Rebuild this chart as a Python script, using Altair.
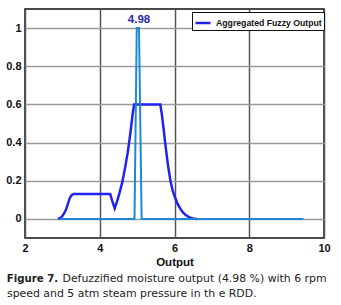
import altair as alt
import pandas as pd

# ---- data ----
agg_x = [2.88, 2.95, 3.0, 3.05, 3.1, 3.15, 3.2, 3.25, 3.3, 4.28, 4.34, 4.40,
         4.46, 4.52, 4.60, 4.68, 4.75, 4.82, 4.88, 4.92, 5.62, 5.66, 5.71,
         5.75, 5.82, 5.89, 5.95, 6.0, 6.08, 6.15, 6.22, 6.3, 6.4, 6.5, 6.6]
agg_y = [0.0, 0.005, 0.015, 0.03, 0.05, 0.08, 0.11, 0.125, 0.13, 0.13, 0.09, 0.055,
         0.09, 0.13, 0.19, 0.27, 0.35, 0.45, 0.55, 0.60, 0.60, 0.55, 0.47,
         0.40, 0.29, 0.20, 0.15, 0.12, 0.08, 0.055, 0.035, 0.02, 0.008, 0.002, 0.0]
defuzz_x = [2.93, 4.93, 4.99, 5.05, 5.12, 9.45]
defuzz_y = [0.0, 0.0, 1.0, 1.0, 0.0, 0.0]
series_name = "Aggregated Fuzzy Output"
centroid_label = "4.98"
x_ticks = [2, 4, 6, 8, 10]
y_ticks = [0, 0.2, 0.4, 0.6, 0.8, 1]
caption_bold = "Figure 7."
caption_line1 = "Defuzzified moisture output (4.98 %) with 6 rpm"
caption_line2 = "speed and 5 atm steam pressure in th e RDD."

agg_df = pd.DataFrame({"x": agg_x, "y": agg_y, "series": series_name})
def_df = pd.DataFrame({"x": defuzz_x, "y": defuzz_y})

xs = alt.Scale(domain=[2, 10], nice=False, zero=False)
ys = alt.Scale(domain=[-0.1, 1.1], nice=False, zero=False)

x_axis = alt.Axis(values=x_ticks, title="Output", grid=True, gridColor="#555555",
                  gridWidth=1.5, ticks=False, domain=False, labelFont="Liberation Sans",
                  labelFontWeight="bold", labelFontSize=11, labelColor="#111111",
                  labelPadding=4, titleFont="Liberation Sans", titleFontWeight="bold",
                  titleFontSize=11.5, titleColor="#111111", titlePadding=3,
                  labelFlush=False)
y_axis = alt.Axis(values=y_ticks, title=None, grid=True, gridColor="#9a9a9a",
                  gridWidth=1.5, ticks=False, domain=False, format="~g",
                  labelFont="Liberation Sans", labelFontWeight="bold", labelFontSize=11,
                  labelColor="#111111", labelPadding=4, labelFlush=False)

agg = alt.Chart(agg_df).mark_line(strokeWidth=2.5).encode(
    x=alt.X("x:Q", scale=xs, axis=x_axis),
    y=alt.Y("y:Q", scale=ys, axis=y_axis),
    color=alt.Color("series:N", scale=alt.Scale(domain=[series_name], range=["#2222ee"]),
                    legend=alt.Legend(title=None, orient="none", legendX=167, legendY=3,
                                      fillColor="white", strokeColor="#111111",
                                      padding=2, symbolType="stroke", symbolStrokeWidth=2.5,
                                      symbolSize=225, labelFont="Liberation Sans",
                                      labelFontWeight="bold", labelFontSize=8.7,
                                      labelColor="#111111", labelOffset=4)),
)

defz = alt.Chart(def_df).mark_line(strokeWidth=2, color="#1f88d6").encode(
    x=alt.X("x:Q", scale=xs), y=alt.Y("y:Q", scale=ys))

lab = alt.Chart(pd.DataFrame({"x": [5.05], "y": [1.025], "t": [centroid_label]})).mark_text(
    font="Liberation Sans", fontWeight="bold", fontSize=11.5, color="#2a2aa8",
    align="center", baseline="alphabetic").encode(
    x=alt.X("x:Q", scale=xs), y=alt.Y("y:Q", scale=ys), text="t:N")

def cap(text, x, y, bold=False, size=10.9):
    return alt.Chart(pd.DataFrame({"t": [text]})).mark_text(
        font="DejaVu Sans", fontWeight="bold" if bold else "normal", fontSize=size,
        color="#222222", align="left", baseline="alphabetic").encode(
        x=alt.value(x), y=alt.value(y), text="t:N")

chart = alt.layer(
    agg, defz, lab,
    cap(caption_bold, -18.3, 272.5, True, 10.2),
    cap(caption_line1, 37.5, 272.5),
    cap(caption_line2, -18, 287.5),
).properties(
    width=299, height=229,
    autosize=alt.AutoSizeParams(type="none"),
    padding={"left": 25, "top": 9, "right": 17, "bottom": 67},
    background="white",
).configure_view(stroke="#111111", strokeWidth=1.5)

chart.save("out.html", embed_options={"renderer": "svg", "actions": False})
